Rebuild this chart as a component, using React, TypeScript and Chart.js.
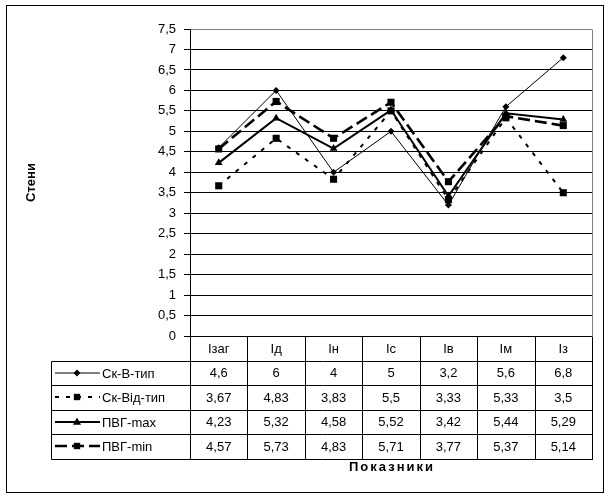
import React, { useEffect, useRef } from 'react';
import { Chart, registerables } from 'chart.js';

Chart.register(...registerables);

const categories = ['Ізаг', 'Ід', 'Ін', 'Іс', 'Ів', 'Ім', 'Із'];
const seriesNames = ['Ск-В-тип', 'Ск-Від-тип', 'ПВГ-max', 'ПВГ-min'];
const skVTyp = [4.6, 6, 4, 5, 3.2, 5.6, 6.8];
const skVidTyp = [3.67, 4.83, 3.83, 5.5, 3.33, 5.33, 3.5];
const pvgMax = [4.23, 5.32, 4.58, 5.52, 3.42, 5.44, 5.29];
const pvgMin = [4.57, 5.73, 4.83, 5.71, 3.77, 5.37, 5.14];
const yTickLabels = ['0', '0,5', '1', '1,5', '2', '2,5', '3', '3,5', '4', '4,5', '5', '5,5', '6', '6,5', '7', '7,5'];
const yAxisTitle = 'Стени';
const xAxisTitle = 'Показники';

const seriesValues = [skVTyp, skVidTyp, pvgMax, pvgMin];

const seriesStyles = [
  { width: 1, dash: [] as number[], point: 'rectRot', radius: 3.5 },
  { width: 2, dash: [4, 7], point: 'rect', radius: 5 },
  { width: 2, dash: [] as number[], point: 'triangle', radius: 4.5 },
  { width: 2.6, dash: [12, 5], point: 'rect', radius: 5 },
];

const FONT = '"Liberation Sans", Arial, sans-serif';
const fmt = (v: number) => String(v).replace('.', ',');

function drawMarker(ctx: CanvasRenderingContext2D, style: string, r: number, x: number, y: number) {
  ctx.beginPath();
  if (style === 'rectRot') {
    ctx.moveTo(x, y - r);
    ctx.lineTo(x + r, y);
    ctx.lineTo(x, y + r);
    ctx.lineTo(x - r, y);
    ctx.closePath();
  } else if (style === 'rect') {
    const s = r * Math.SQRT1_2;
    ctx.rect(x - s, y - s, 2 * s, 2 * s);
  } else {
    ctx.moveTo(x, y - r);
    ctx.lineTo(x + r * 0.9, y + r * 0.6);
    ctx.lineTo(x - r * 0.9, y + r * 0.6);
    ctx.closePath();
  }
  ctx.fill();
}

const tablePlugin = {
  id: 'excelTable',
  afterDraw(chart: any) {
    const ctx: CanvasRenderingContext2D = chart.ctx;
    const ca = chart.chartArea;
    const n = categories.length;
    const colW = (ca.right - ca.left) / n;
    const rowH = 24.5;
    const top = ca.bottom;
    const legendLeft = 51;
    const px = (v: number) => Math.round(v) + 0.5;
    const rows = seriesNames.length + 1;

    ctx.save();
    ctx.setLineDash([]);
    ctx.lineWidth = 1;

    // right gray plot border
    ctx.strokeStyle = '#808080';
    ctx.beginPath();
    ctx.moveTo(px(ca.right), px(ca.top));
    ctx.lineTo(px(ca.right), px(ca.bottom));
    ctx.stroke();

    ctx.strokeStyle = '#000';
    for (let r = 1; r <= rows; r++) {
      const y = px(top + r * rowH);
      ctx.beginPath();
      ctx.moveTo(px(legendLeft), y);
      ctx.lineTo(px(ca.right) + 0.5, y);
      ctx.stroke();
    }
    for (let i = 0; i <= n; i++) {
      const x = px(ca.left + i * colW);
      ctx.beginPath();
      ctx.moveTo(x, px(top));
      ctx.lineTo(x, px(top + rows * rowH));
      ctx.stroke();
    }
    ctx.beginPath();
    ctx.moveTo(px(legendLeft), px(top + rowH));
    ctx.lineTo(px(legendLeft), px(top + rows * rowH));
    ctx.stroke();

    ctx.fillStyle = '#000';
    ctx.font = `13px ${FONT}`;
    ctx.textBaseline = 'middle';
    ctx.textAlign = 'center';
    const xs = chart.scales.x;
    categories.forEach((c, i) => {
      ctx.fillText(c, xs.getPixelForValue(i), top + rowH / 2 + 1);
    });
    seriesValues.forEach((vals, s) => {
      const yc = top + rowH * (s + 1) + rowH / 2 + 1;
      vals.forEach((v, i) => {
        ctx.fillText(fmt(v), xs.getPixelForValue(i), yc);
      });
    });

    seriesNames.forEach((name, s) => {
      const st = seriesStyles[s];
      const yc = Math.round(top + rowH * (s + 1) + rowH / 2);
      ctx.strokeStyle = '#000';
      ctx.lineWidth = st.width;
      ctx.setLineDash(st.dash);
      ctx.beginPath();
      ctx.moveTo(55, yc);
      ctx.lineTo(100, yc);
      ctx.stroke();
      ctx.setLineDash([]);
      drawMarker(ctx, st.point, st.point === 'rect' ? 4.5 : st.radius, 77, yc);
      ctx.textAlign = 'left';
      ctx.fillText(name, 102, yc + 1);
    });

    ctx.font = `bold 13px ${FONT}`;
    ctx.textAlign = 'center';
    (ctx as any).letterSpacing = '2px';
    ctx.fillText(xAxisTitle, (ca.left + ca.right) / 2 + 1, 467);
    (ctx as any).letterSpacing = '0px';
    ctx.save();
    ctx.translate(31, (ca.top + ca.bottom) / 2);
    ctx.rotate(-Math.PI / 2);
    ctx.fillText(yAxisTitle, 0, 0);
    ctx.restore();

    ctx.lineWidth = 1;
    ctx.strokeStyle = '#000';
    ctx.strokeRect(6.5, 5.5, 597, 487);
    ctx.restore();
  },
};

export default function App() {
  const ref = useRef<HTMLCanvasElement | null>(null);
  useEffect(() => {
    if (!ref.current) return;
    const chart = new Chart(ref.current, {
      type: 'line',
      data: {
        labels: categories,
        datasets: seriesNames.map((name, s) => ({
          label: name,
          data: seriesValues[s],
          borderColor: '#000',
          backgroundColor: '#000',
          borderWidth: seriesStyles[s].width,
          borderDash: seriesStyles[s].dash,
          pointStyle: seriesStyles[s].point as any,
          pointRadius: seriesStyles[s].radius,
          pointBorderWidth: 0,
          pointBackgroundColor: '#000',
          pointBorderColor: '#000',
          fill: false,
          tension: 0,
        })),
      },
      options: {
        animation: false,
        responsive: false,
        devicePixelRatio: 1,
        events: [],
        layout: { padding: { left: 0, top: 29, right: 20, bottom: 163 } },
        plugins: { legend: { display: false }, tooltip: { enabled: false } },
        scales: {
          x: { type: 'category', display: false, offset: true },
          y: {
            min: 0,
            max: 7.5,
            afterFit: (scale: any) => {
              scale.width = 190;
            },
            ticks: {
              stepSize: 0.5,
              color: '#000',
              font: { family: FONT, size: 13 },
              padding: 8,
              callback: (_v: any, i: number) => yTickLabels[i],
            },
            grid: {
              color: (c: any) => (c.index === yTickLabels.length - 1 ? '#808080' : '#000'),
              tickColor: '#000',
              tickLength: 6,
              lineWidth: 1,
            },
            border: { color: '#000', width: 1 },
          },
        },
      },
      plugins: [tablePlugin],
    });
    return () => chart.destroy();
  }, []);
  return (
    <div style={{ position: 'fixed', left: 0, top: 0, width: 612, height: 499, background: '#fff' }}>
      <canvas ref={ref} width={612} height={499} style={{ width: 612, height: 499 }} />
    </div>
  );
}
